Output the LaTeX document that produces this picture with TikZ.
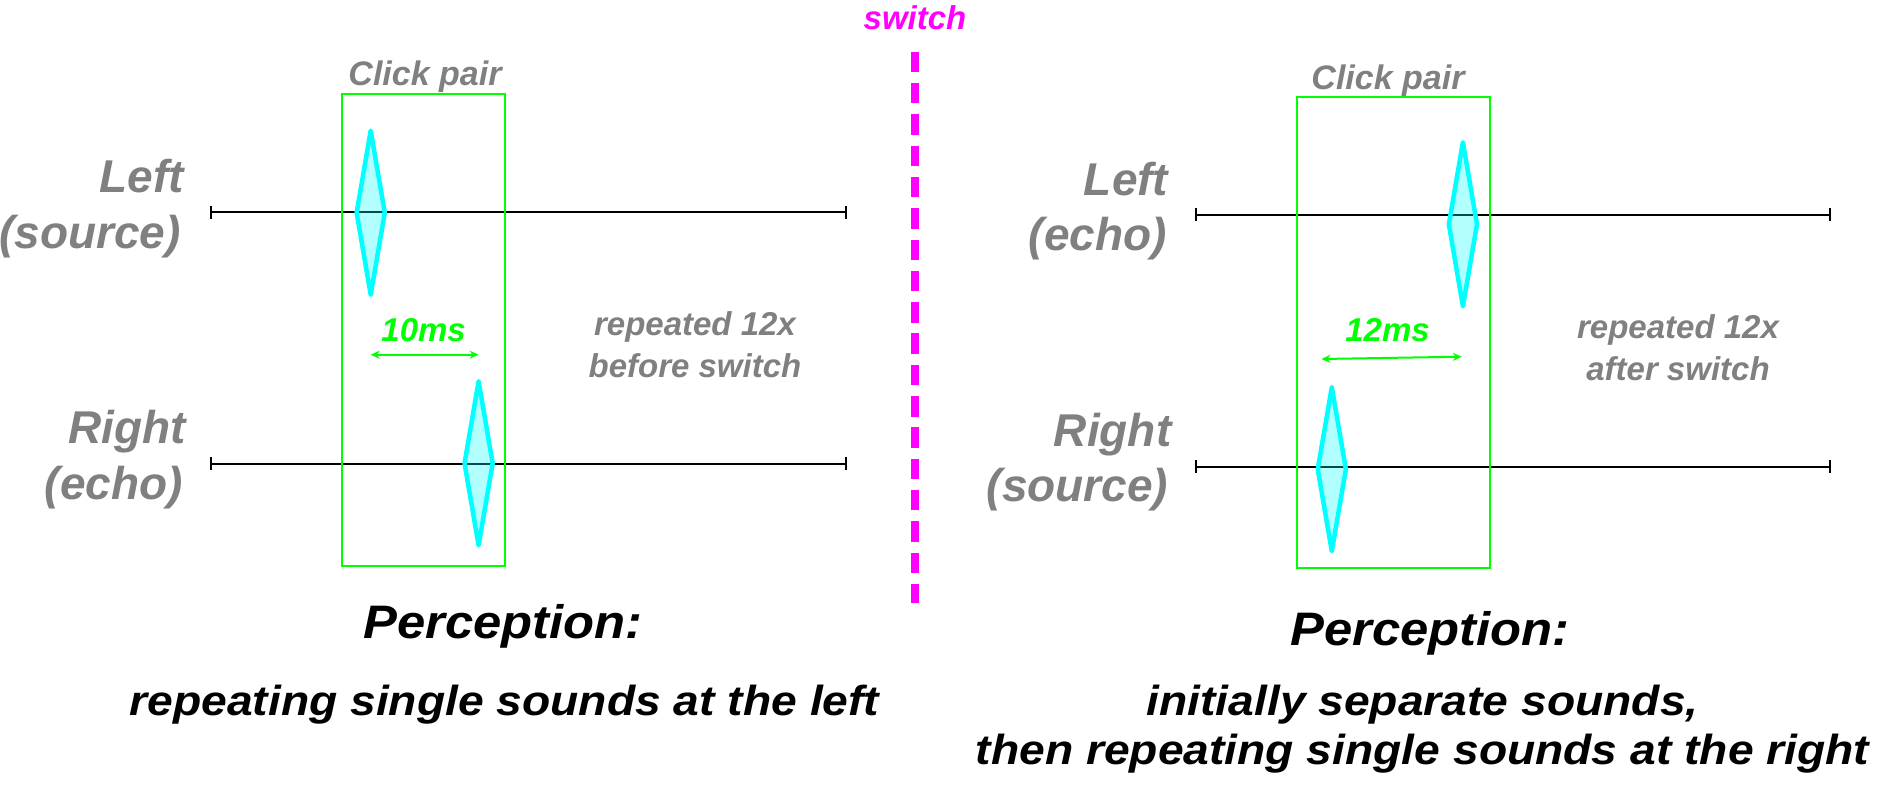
\documentclass[tikz,border=0pt]{standalone}
\usepackage{fontspec}
\setmainfont{Liberation Sans}
\newfontfamily\percfont[FakeStretch=1.08]{Liberation Sans}
\newfontfamily\rowfont[FakeStretch=1.1]{Liberation Sans}
\usetikzlibrary{arrows.meta,shapes.geometric}
\definecolor{lblgray}{HTML}{808080}
\definecolor{pairgreen}{HTML}{00FF00}
\definecolor{clickcyan}{HTML}{00FFFF}
\definecolor{switchmag}{HTML}{FF00FF}
\tikzset{
  chan/.style={font=\fontsize{46}{50}\selectfont\bfseries\itshape, text=lblgray, inner sep=0pt, anchor=base east},
  pairlbl/.style={font=\fontsize{34}{38}\selectfont\bfseries\itshape, text=lblgray, inner sep=0pt, anchor=base},
  delay/.style={font=\fontsize{33}{36}\selectfont\bfseries\itshape, text=pairgreen, inner sep=0pt, anchor=base},
  reptxt/.style={font=\fontsize{33}{36}\selectfont\bfseries\itshape, text=lblgray, inner sep=0pt, anchor=base},
  swtxt/.style={font=\fontsize{33}{36}\selectfont\bfseries\itshape, text=switchmag, inner sep=0pt, anchor=base},
  perc/.style={font=\percfont\fontsize{47}{50}\selectfont\bfseries\itshape, inner sep=0pt, anchor=base},
  percrow/.style={font=\rowfont\fontsize{42}{45}\selectfont\bfseries\itshape, inner sep=0pt, anchor=base},
  timeline/.style={line width=2pt, {Bar[width=13pt,line width=2pt]}-{Bar[width=13pt,line width=2pt]}},
  click/.style={shape=diamond, draw=clickcyan, fill=clickcyan, fill opacity=0.3, line width=4.5pt, line join=round, minimum width=30pt, minimum height=166pt, inner sep=0pt},
  pairbox/.style={draw=pairgreen, line width=2pt, inner sep=0pt},
  gap/.style={draw=pairgreen, line width=2pt, {Stealth[length=9pt,width=8pt]}-{Stealth[length=9pt,width=8pt]}},
  switchline/.style={draw=switchmag, line width=8pt, dash pattern=on 20.5pt off 10.8pt},
}
\begin{document}
\begin{tikzpicture}[x=1pt, y=-1pt]
\useasboundingbox (0,0) rectangle (1884,789);
% ---------- left panel ----------
\coordinate (lt1) at (210,212);   \coordinate (lt2) at (847,212);
\coordinate (lb1) at (210,463.7); \coordinate (lb2) at (847,463.7);
\draw[timeline] (lt1) -- (lt2);
\draw[timeline] (lb1) -- (lb2);
\node[pairbox, minimum width=163.6pt, minimum height=471.7pt] (boxL) at (423.5,329.85) {};
\node[click] (cL1) at (370.7,212.7) {};
\node[click] (cL2) at (478.6,463.3) {};
\coordinate (gL) at (0,354.7);
\draw[gap] (cL1 |- gL) -- (cL2 |- gL);
\node[pairlbl] (cpL) at (425,86) {Click pair};
\node[delay] (dL) at (423.6,341.7) {10ms};
\node[chan] (l1) at (184,192.7) {Left};
\node[chan] (l2) at (181,248.3) {(source)};
\node[chan] (l3) at (186,443.3) {Right};
\node[chan] (l4) at (183,499.3) {(echo)};
\node[reptxt] (rL1) at (695,335) {repeated 12x};
\node[reptxt] (rL2) at (695,377.7) {before switch};
\node[perc] (pL) at (503,638) {Perception:};
\node[percrow] (pL1) at (504.5,715) {repeating single sounds at the left};
% ---------- switch ----------
\coordinate (sw1) at (915,51.7); \coordinate (sw2) at (915,603.3);
\draw[switchline] (sw1) -- (sw2);
\node[swtxt] (swt) at (915,29.3) {switch};
% ---------- right panel ----------
\coordinate (rt1) at (1195,214.7);  \coordinate (rt2) at (1830.7,214.7);
\coordinate (rb1) at (1195,466.5);  \coordinate (rb2) at (1830.7,466.5);
\draw[timeline] (rt1) -- (rt2);
\draw[timeline] (rb1) -- (rb2);
\node[pairbox, minimum width=193pt, minimum height=471.6pt] (boxR) at (1393.5,332.5) {};
\node[click] (cR1) at (1462.9,224.3) {};
\node[click] (cR2) at (1331.8,469.2) {};
\coordinate (gR1) at (1321.4,359); \coordinate (gR2) at (1461.8,356.7);
\draw[gap] (gR1) -- (gR2);
\node[pairlbl] (cpR) at (1388,90) {Click pair};
\node[delay] (dR) at (1387.5,341.7) {12ms};
\node[chan] (r1) at (1168.5,195) {Left};
\node[chan] (r2) at (1167,250.7) {(echo)};
\node[chan] (r3) at (1171.5,446.7) {Right};
\node[chan] (r4) at (1168.5,501.7) {(source)};
\node[reptxt] (rR1) at (1678,338.3) {repeated 12x};
\node[reptxt] (rR2) at (1678,380) {after switch};
\node[perc] (pR) at (1430,645) {Perception:};
\node[percrow] (pR1) at (1422.6,715) {initially separate sounds,};
\node[percrow] (pR2) at (1422.5,764) {then repeating single sounds at the right};
\end{tikzpicture}
\end{document}
